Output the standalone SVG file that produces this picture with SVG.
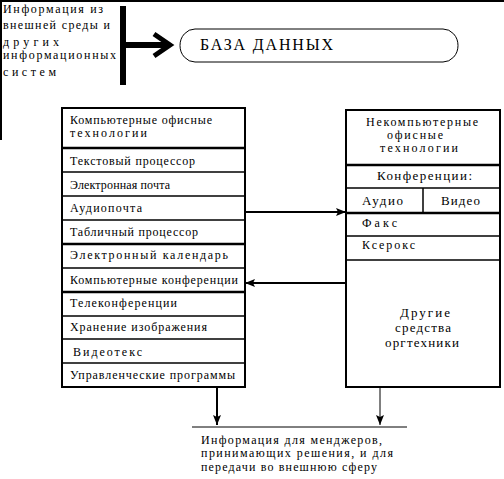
<svg xmlns="http://www.w3.org/2000/svg" width="504" height="479" viewBox="0 0 504 479">
<defs>
<style>
text{font-family:"Liberation Serif","DejaVu Serif",serif;font-size:12px;fill:#000}
.big{font-size:16px}
.mid{font-size:12px}
.lg{font-size:13px}
.box{fill:#fff;stroke:#000;stroke-width:2}
.row{stroke:#000;stroke-width:1.5;fill:none}
.thick{stroke:#000;stroke-width:2.5;fill:none}
.ln{stroke:#000;fill:none}
</style>
<marker id="ah" viewBox="0 0 10 8" refX="10" refY="4" markerWidth="10" markerHeight="8" markerUnits="userSpaceOnUse" orient="auto">
<path d="M0,0 L10,4 L0,8 L2,4 Z" fill="#000"/>
</marker>
</defs>
<rect width="504" height="479" fill="#fff"/>
<g id="frame">
<rect x="0" y="0" width="504" height="2" fill="#000"/>
<rect x="0" y="0" width="2" height="140" fill="#000"/>
</g>
<g id="source">
<text x="3" y="13" textLength="100" lengthAdjust="spacing">Информация из</text>
<text x="3" y="29" textLength="107" lengthAdjust="spacing">внешней среды и</text>
<text x="3" y="46" textLength="56" lengthAdjust="spacing">других</text>
<text x="3" y="59" textLength="113" lengthAdjust="spacing">информационных</text>
<text x="3" y="76" textLength="53" lengthAdjust="spacing">систем</text>
<rect x="120" y="6" width="6" height="79" fill="#000"/>
</g>
<g id="db">
<rect x="180" y="29" width="278" height="33" rx="15" ry="16.5" fill="#fff" stroke="#000" stroke-width="1"/>
<text class="big" x="200" y="50" textLength="133" lengthAdjust="spacing">БАЗА ДАННЫХ</text>
</g>
<g id="computer">
<rect class="box" x="62" y="108" width="183" height="279"/>
<line class="thick" x1="62" y1="148" x2="245" y2="148"/>
<line class="row" x1="62" y1="172" x2="245" y2="172"/>
<line class="row" x1="62" y1="196" x2="245" y2="196"/>
<line class="row" x1="62" y1="220" x2="245" y2="220"/>
<line class="thick" x1="62" y1="244" x2="245" y2="244"/>
<line class="row" x1="62" y1="268" x2="245" y2="268"/>
<line class="thick" x1="62" y1="292" x2="245" y2="292"/>
<line class="row" x1="62" y1="316" x2="245" y2="316"/>
<line class="row" x1="62" y1="339" x2="245" y2="339"/>
<line class="row" x1="62" y1="363" x2="245" y2="363"/>
<text x="70" y="124" textLength="142" lengthAdjust="spacing">Компьютерные офисные</text>
<text x="70" y="137" textLength="77" lengthAdjust="spacing">технологии</text>
<text x="70" y="165" textLength="125" lengthAdjust="spacing">Текстовый процессор</text>
<text x="70" y="189" textLength="100" lengthAdjust="spacing">Электронная почта</text>
<text x="70" y="212" textLength="72" lengthAdjust="spacing">Аудиопочта</text>
<text x="70" y="236" textLength="128" lengthAdjust="spacing">Табличный процессор</text>
<text x="70" y="259" textLength="158" lengthAdjust="spacing">Электронный календарь</text>
<text x="70" y="284" textLength="168" lengthAdjust="spacing">Компьютерные конференции</text>
<text x="70" y="307" textLength="107" lengthAdjust="spacing">Телеконференции</text>
<text x="70" y="331" textLength="137" lengthAdjust="spacing">Хранение изображения</text>
<text x="73" y="356" textLength="69" lengthAdjust="spacing">Видеотекс</text>
<text x="70" y="379" textLength="165" lengthAdjust="spacing">Управленческие программы</text>
</g>
<g id="noncomputer">
<rect class="box" x="346" y="110" width="154" height="277"/>
<line class="thick" x1="346" y1="165" x2="500" y2="165"/>
<line class="row" x1="346" y1="188" x2="500" y2="188"/>
<line class="thick" x1="346" y1="213" x2="500" y2="213"/>
<line class="row" x1="423" y1="188" x2="423" y2="213"/>
<line class="row" x1="346" y1="236" x2="500" y2="236"/>
<line class="row" x1="346" y1="260" x2="500" y2="260"/>
<text class="mid" x="366" y="126" textLength="112" lengthAdjust="spacing">Некомпьютерные</text>
<text class="mid" x="387" y="139" textLength="56" lengthAdjust="spacing">офисные</text>
<text class="mid" x="380" y="152" textLength="78" lengthAdjust="spacing">технологии</text>
<text class="lg" x="377" y="180" textLength="95" lengthAdjust="spacing">Конференции:</text>
<text class="lg" x="362" y="205" textLength="41" lengthAdjust="spacing">Аудио</text>
<text class="lg" x="441" y="205" textLength="39" lengthAdjust="spacing">Видео</text>
<text x="362" y="227" textLength="35" lengthAdjust="spacing">Факс</text>
<text x="362" y="249" textLength="53" lengthAdjust="spacing">Ксерокс</text>
<text class="lg" x="400" y="317" textLength="50" lengthAdjust="spacing">Другие</text>
<text class="lg" x="395" y="332" textLength="56" lengthAdjust="spacing">средства</text>
<text class="lg" x="385" y="347" textLength="74" lengthAdjust="spacing">оргтехники</text>
</g>
<g id="output">
<line class="ln" x1="192" y1="427" x2="407" y2="427" stroke-width="1"/>
<text x="201" y="444" textLength="181" lengthAdjust="spacing">Информация для менджеров,</text>
<text x="201" y="457" textLength="192" lengthAdjust="spacing">принимающих решения, и для</text>
<text x="201" y="471" textLength="176" lengthAdjust="spacing">передачи во внешнюю сферу</text>
</g>
<g id="connectors">
<rect x="123" y="42" width="45" height="6" fill="#000"/>
<polyline points="154,34 170,45 154,56" fill="none" stroke="#000" stroke-width="5"/>
<line class="ln" x1="245" y1="212" x2="346" y2="212" stroke-width="2" marker-end="url(#ah)"/>
<line class="ln" x1="346" y1="283" x2="245" y2="283" stroke-width="2" marker-end="url(#ah)"/>
<line class="ln" x1="217" y1="387" x2="217" y2="425" stroke-width="2" marker-end="url(#ah)"/>
<line class="ln" x1="380" y1="387" x2="380" y2="425" stroke-width="1" marker-end="url(#ah)"/>
</g>
</svg>
